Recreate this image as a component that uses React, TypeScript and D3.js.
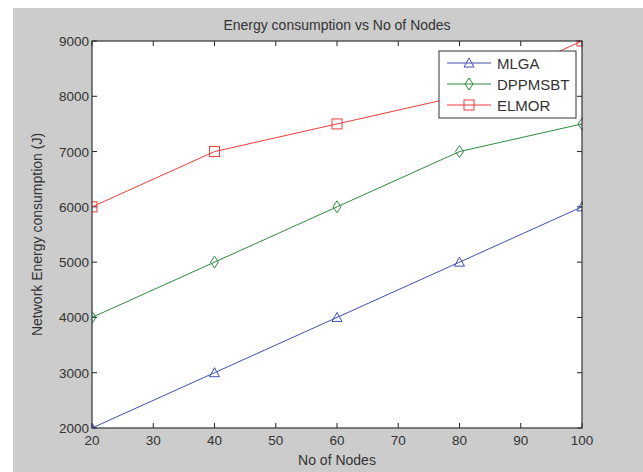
import React from 'react'
import * as d3 from 'd3'

const nodes = [20, 40, 60, 80, 100]
const mlga = [2000, 3000, 4000, 5000, 6000]
const dppmsbt = [4000, 5000, 6000, 7000, 7500]
const elmor = [6000, 7000, 7500, 8000, 9000]
const xTicks = [20, 30, 40, 50, 60, 70, 80, 90, 100]
const yTicks = [2000, 3000, 4000, 5000, 6000, 7000, 8000, 9000]

const series = [
  {name: 'MLGA', values: mlga, color: '#3f4fb0', marker: 'triangle'},
  {name: 'DPPMSBT', values: dppmsbt, color: '#2e8a3e', marker: 'diamond'},
  {name: 'ELMOR', values: elmor, color: '#f03a3a', marker: 'square'}
]

const W = 643
const H = 472
const left = 92,
  right = 582,
  top = 41,
  bottom = 428

const font = 'Arial, "Liberation Sans", sans-serif'

const Marker = ({type, x, y, color}: {type: string; x: number; y: number; color: string}) => {
  if (type === 'triangle')
    return <path d={`M${x},${y - 5}L${x + 5},${y + 4}L${x - 5},${y + 4}Z`} fill="none" stroke={color} strokeWidth={1} />
  if (type === 'diamond')
    return <path d={`M${x},${y - 6}L${x + 4},${y}L${x},${y + 6}L${x - 4},${y}Z`} fill="none" stroke={color} strokeWidth={1} />
  return <rect x={x - 5} y={y - 5} width={10} height={10} fill="none" stroke={color} strokeWidth={1} />
}

export default function App() {
  const x = d3.scaleLinear().domain([20, 100]).range([left, right])
  const y = d3.scaleLinear().domain([2000, 9000]).range([bottom, top])
  const line = d3
    .line<number>()
    .x((d, i) => x(nodes[i]))
    .y(d => y(d))

  const lg = {x: 439, y: 51, w: 137, h: 67}

  return (
    <svg width={W} height={H} style={{position: 'absolute', left: 0, top: 0}} fontFamily={font}>
      <rect x={13} y={8} width={W - 13} height={H - 8} fill="#cccccc" />
      <rect x={left} y={top} width={right - left} height={bottom - top} fill="#ffffff" />

      <defs>
        <clipPath id="plot-clip">
          <rect x={left} y={top - 1} width={right - left + 1} height={bottom - top + 2} />
        </clipPath>
      </defs>

      {/* ticks, inward on all sides */}
      <g stroke="#222" strokeWidth={1}>
        {xTicks.map(t => (
          <g key={'xt' + t}>
            <line x1={x(t)} x2={x(t)} y1={bottom} y2={bottom - 5} />
            <line x1={x(t)} x2={x(t)} y1={top} y2={top + 5} />
          </g>
        ))}
        {yTicks.map(t => (
          <g key={'yt' + t}>
            <line x1={left} x2={left + 5} y1={y(t)} y2={y(t)} />
            <line x1={right} x2={right - 5} y1={y(t)} y2={y(t)} />
          </g>
        ))}
      </g>

      <g clipPath="url(#plot-clip)">
        {series.map(s => (
          <g key={s.name}>
            <path d={line(s.values) || ''} fill="none" stroke={s.color} strokeWidth={1} />
            {s.values.map((v, i) => (
              <Marker key={i} type={s.marker} x={x(nodes[i])} y={y(v)} color={s.color} />
            ))}
          </g>
        ))}
      </g>

      <rect x={left} y={top} width={right - left} height={bottom - top} fill="none" stroke="#333" strokeWidth={1.2} />

      {xTicks.map(t => (
        <text key={'xl' + t} x={x(t)} y={bottom + 17} textAnchor="middle" fontSize={13.5} fill="#333">
          {t}
        </text>
      ))}
      {yTicks.map(t => (
        <text key={'yl' + t} x={left - 3} y={y(t) + 5} textAnchor="end" fontSize={13.5} fill="#333">
          {t}
        </text>
      ))}

      <text x={(left + right) / 2} y={30} textAnchor="middle" fontSize={14} fill="#333">
        Energy consumption vs No of Nodes
      </text>
      <text x={(left + right) / 2} y={465} textAnchor="middle" fontSize={14} fill="#333">
        No of Nodes
      </text>
      <text
        transform={`translate(42,${(top + bottom) / 2}) rotate(-90)`}
        textAnchor="middle"
        fontSize={14}
        fill="#333"
      >
        Network Energy consumption (J)
      </text>

      {/* legend */}
      <rect x={lg.x} y={lg.y} width={lg.w} height={lg.h} fill="#ffffff" stroke="#333" strokeWidth={1} />
      {series.map((s, i) => {
        const ly = lg.y + 12 + i * 21
        return (
          <g key={'lg' + s.name}>
            <line x1={lg.x + 8} x2={lg.x + 52} y1={ly} y2={ly} stroke={s.color} strokeWidth={1} />
            <Marker type={s.marker} x={lg.x + 30} y={ly} color={s.color} />
            <text x={lg.x + 58} y={ly + 5.5} fontSize={15} fill="#333">
              {s.name}
            </text>
          </g>
        )
      })}
    </svg>
  )
}
